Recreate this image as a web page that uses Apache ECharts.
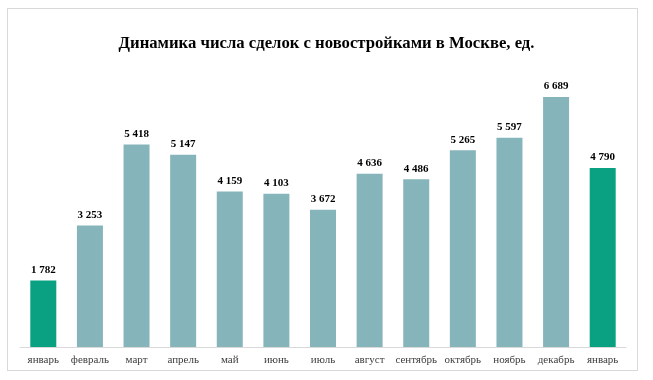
<!DOCTYPE html>
<html><head><meta charset="utf-8">
<script src="https://cdn.jsdelivr.net/npm/echarts@6/dist/echarts.min.js"></script>
<style>
html,body{margin:0;padding:0;background:#fff;}
#frame{position:absolute;left:7px;top:8px;width:631px;height:363px;border:1px solid #d9d9d9;box-sizing:border-box;}
#chart{position:absolute;left:0;top:0;width:653px;height:380px;}
</style></head>
<body>
<div id="frame"></div>
<div id="chart"></div>
<script>
const titleText = 'Динамика числа сделок с новостройками в Москве, ед.';
const categories = ['январь','февраль','март','апрель','май','июнь','июль','август','сентябрь','октябрь','ноябрь','декабрь','январь'];
const values = [1782, 3253, 5418, 5147, 4159, 4103, 3672, 4636, 4486, 5265, 5597, 6689, 4790];
const highlighted = [0, 12];

const chart = echarts.init(document.getElementById('chart'), null, {renderer:'canvas'});
const serif = "'Liberation Serif','Times New Roman',serif";
chart.setOption({
  animation:false,
  title:{text:titleText,left:'center',top:30,textStyle:{fontFamily:serif,fontWeight:'bold',fontSize:16.7,color:'#000'}},
  grid:{left:20,right:27,top:48,bottom:33},
  xAxis:{type:'category',data:categories,
    axisLine:{lineStyle:{color:'#d9d9d9'}},axisTick:{show:false},
    axisLabel:{fontFamily:serif,fontSize:11,color:'#404040',margin:8,interval:0}},
  yAxis:{type:'value',min:0,max:8000,show:false,splitLine:{show:false}},
  series:[{type:'bar',barWidth:26,
    data:values.map((v,i)=>({value:v,itemStyle:{color:highlighted.includes(i)?'#0aa183':'#85b5ba'}})),
    label:{show:true,position:'top',distance:5,fontFamily:serif,fontWeight:'bold',fontSize:11,color:'#000',
      formatter:p=>String(p.value).replace(/\B(?=(\d{3})+(?!\d))/g,' ')}}]
});
</script>
</body></html>
